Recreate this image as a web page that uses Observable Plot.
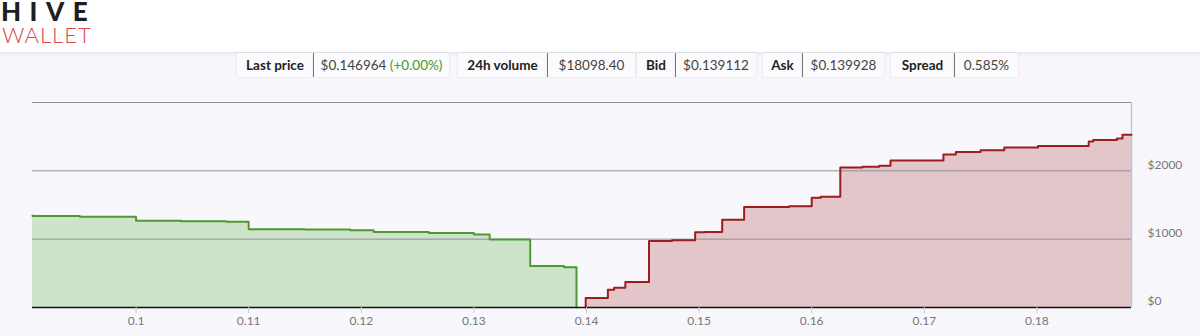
<!DOCTYPE html>
<html>
<head>
<meta charset="utf-8">
<script src="https://cdn.jsdelivr.net/npm/d3@7"></script>
<script src="https://cdn.jsdelivr.net/npm/@observablehq/plot@0.6"></script>
<style>
  html, body { margin: 0; padding: 0; }
  body { width: 1200px; height: 336px; background: #f8f8fc; position: relative; overflow: hidden; font-family: Lato, "Open Sans", sans-serif; }
  #header { position: absolute; left: 0; top: 0; width: 1200px; height: 52px; background: #ffffff; box-shadow: 0 1px 4px rgba(0,0,0,0.10); }
  #hive { position: absolute; left: 1px; top: 0px; height: 22px; line-height: 22px; font-family: Lato, sans-serif; font-weight: 900; font-size: 26px; letter-spacing: 8.5px; color: #1f1f1f; white-space: nowrap; }
  #wallet { position: absolute; left: 2px; top: 25px; height: 20px; line-height: 20px; font-family: Lato, sans-serif; font-weight: 300; font-size: 22px; letter-spacing: 1px; color: #d9484c; white-space: nowrap; }
  .cell { position: absolute; top: 53px; height: 24px; line-height: 24px; font-size: 13.5px; text-align: center; background: #fbfbfd; box-shadow: 0 0 2px rgba(0,0,0,0.12); color: #333; }
  .lab { font-weight: 700; color: #222; }
  .val { color: #444; border-left: 1px solid #777; }
  .up { color: #3f9a2a; }
  #chart { position: absolute; left: 0; top: 85px; }
</style>
</head>
<body>
<div id="header">
  <div id="hive">HIVE</div>
  <div id="wallet">WALLET</div>
</div>
<div id="stats"></div>
<div id="chart"></div>
<script>
// ---- data ----
const statLabels = ["Last price", "24h volume", "Bid", "Ask", "Spread"];
const statValues = ["$0.146964", "$18098.40", "$0.139112", "$0.139928", "0.585%"];
const lastChange = "(+0.00%)";

// bids: price ascending, cumulative depth ($) for the interval ending at that price
const bidPrice = [0.0908, 0.0950, 0.1000, 0.1040, 0.1080, 0.1100, 0.1150, 0.1190, 0.1211, 0.1260, 0.1300, 0.1314, 0.1350, 0.1380, 0.139112, 0.139112];
const bidDepth = [1345, 1340, 1328, 1268, 1262, 1255, 1145, 1140, 1132, 1105, 1090, 1068, 995, 608, 588, 0];

// asks: price ascending, cumulative depth ($) from that price on
const askPrice = [0.139928, 0.139928, 0.14190, 0.14245, 0.14345, 0.14555, 0.14760, 0.14965, 0.15050, 0.15205, 0.15400, 0.15800, 0.16000, 0.16080, 0.16254, 0.16450, 0.16600, 0.16700, 0.17170, 0.17280, 0.17500, 0.17710, 0.18010, 0.18460, 0.18500, 0.18710, 0.18760, 0.18840];
const askDepth = [0, 138, 260, 290, 373, 975, 985, 1100, 1105, 1285, 1470, 1480, 1605, 1620, 2050, 2060, 2075, 2150, 2240, 2275, 2300, 2340, 2365, 2430, 2452, 2472, 2528, 2528];

const xTicks = [0.10, 0.11, 0.12, 0.13, 0.14, 0.15, 0.16, 0.17, 0.18];
const yTicks = [0, 1000, 2000];
const gridLines = [1000, 2000, 3000];
const xDomain = [0.0908, 0.1884];
const yDomain = [0, 3000];

// ---- stats bar ----
const cellPos = [[237, 313, 449], [458, 547, 635], [637, 675, 756], [763, 802, 884], [891, 954, 1018]];
const stats = document.getElementById("stats");
statLabels.forEach((lab, i) => {
  const [a, b, c] = cellPos[i];
  const l = document.createElement("div");
  l.className = "cell lab"; l.style.left = a + "px"; l.style.width = (b - a) + "px"; l.textContent = lab;
  const v = document.createElement("div");
  v.className = "cell val"; v.style.left = b + "px"; v.style.width = (c - b - 1) + "px";
  v.textContent = statValues[i];
  if (i === 0) { const s = document.createElement("span"); s.className = "up"; s.textContent = " " + lastChange; v.appendChild(s); }
  stats.appendChild(l); stats.appendChild(v);
});

// ---- chart ----
const bids = bidPrice.map((p, i) => ({price: p, depth: bidDepth[i]}));
const asks = askPrice.map((p, i) => ({price: p, depth: askDepth[i]}));

const chart = Plot.plot({
  width: 1200,
  height: 251,
  marginTop: 17,
  marginBottom: 29,
  marginLeft: 32,
  marginRight: 69,
  style: {background: "transparent", fontFamily: "Lato, 'Open Sans', sans-serif", fontSize: "12px", color: "#777"},
  x: {domain: xDomain, ticks: xTicks, tickFormat: d => String(+d.toFixed(2)), tickSize: 6, tickPadding: 3, label: null},
  y: {domain: yDomain, label: null},
  marks: [
    Plot.areaY(bids, {x: "price", y: "depth", curve: "step-before", fill: "#cde4cb"}),
    Plot.areaY(asks, {x: "price", y: "depth", curve: "step-after", fill: "#e3c6ca"}),
    Plot.ruleY(gridLines, {stroke: "#8f8f96", strokeWidth: 1}),
    Plot.ruleX([xDomain[1]], {stroke: "#bcc8d6", strokeWidth: 1.5}),
    Plot.lineY(bids, {x: "price", y: "depth", curve: "step-before", stroke: "#4e9a30", strokeWidth: 2}),
    Plot.lineY(asks, {x: "price", y: "depth", curve: "step-after", stroke: "#9c1d1f", strokeWidth: 2}),
    Plot.ruleY([0], {stroke: "#111", strokeWidth: 1.5}),
    Plot.axisX({ticks: xTicks, tickFormat: d => String(+d.toFixed(2)), tickSize: 6, tickPadding: 3, stroke: "#c9c9cf", fill: "#777"}),
    Plot.axisY({anchor: "right", ticks: yTicks, tickFormat: d => "$" + d, tickSize: 0, tickPadding: 16, dy: -6, fill: "#777"})
  ]
});
document.getElementById("chart").appendChild(chart);
</script>
</body>
</html>
